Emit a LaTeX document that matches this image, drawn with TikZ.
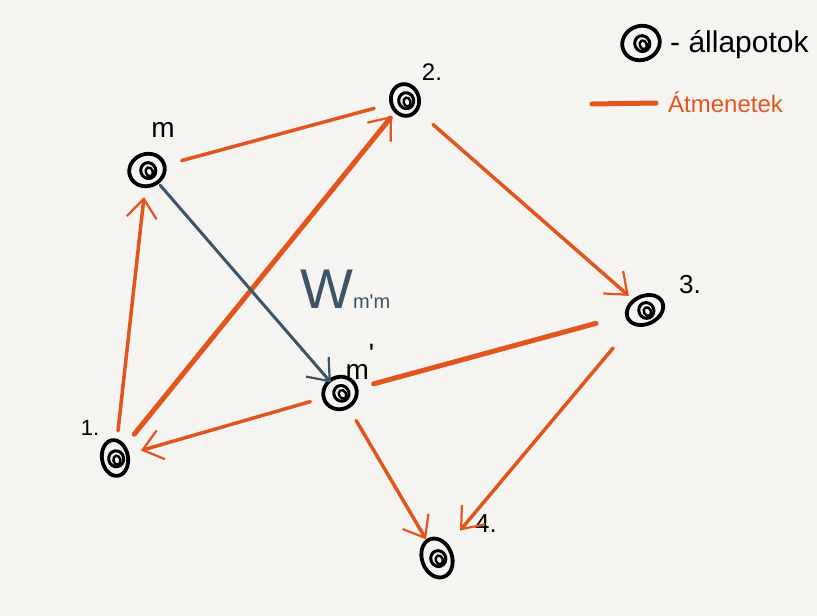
\documentclass[tikz,border=0pt]{standalone}
\usepackage{fontspec}
\setmainfont{Liberation Sans}
\usetikzlibrary{shapes.geometric,arrows.meta}

\definecolor{atmenetszin}{RGB}{226,86,30}
\definecolor{wszin}{RGB}{62,84,104}
\definecolor{papir}{RGB}{245,244,241}

\tikzset{
  allapot/.style={ellipse, draw=black, line width=3.8pt, inner sep=0pt,
    minimum width=30pt, minimum height=32pt,
    path picture={
      \draw[line width=3pt]
        ([shift={(1pt,-1pt)}]path picture bounding box.center) ellipse (7.5pt and 8pt);
      \draw[line width=2.4pt]
        ([shift={(1.5pt,-2.5pt)}]path picture bounding box.center) ellipse (3.5pt and 4.5pt);
    }},
  atmenet/.style={draw=atmenetszin, line width=3.5pt, line cap=round},
  nyil/.style={-{Straight Barb[length=19pt,width=30pt,line width=2.2pt]}},
  cimke/.style={font=\fontsize{28}{28}\selectfont, inner sep=0pt},
}

\begin{document}
\begin{tikzpicture}[x=1pt, y=-1pt]
  \fill[papir] (0,0) rectangle (817,616);
  \useasboundingbox (0,0) rectangle (817,616);

  % allapotok
  \node[allapot, minimum width=36pt, minimum height=32pt, rotate=20] (m) at (147,170) {};
  \node[allapot, minimum width=28pt, minimum height=32pt, rotate=15] (k2) at (405,100) {};
  \node[allapot, minimum width=38pt, minimum height=28pt, rotate=25] (k3) at (645,310) {};
  \node[allapot, minimum width=34pt, minimum height=32pt, rotate=30] (mv) at (340,393) {};
  \node[allapot, minimum width=26pt, minimum height=36pt, rotate=10] (k1) at (115,458) {};
  \node[allapot, minimum width=30pt, minimum height=40pt, rotate=20] (k4) at (437,558) {};

  \node[cimke] (m label) at (163,130) {m};
  \node[cimke, font=\fontsize{24}{24}\selectfont] (k2 label) at (432,72) {2.};
  \node[cimke, font=\fontsize{26}{26}\selectfont] (k3 label) at (690,285) {3.};
  \node[cimke] (mv label) at (360,362) {m\raisebox{0.55em}{\textquotesingle}};
  \node[cimke, font=\fontsize{22}{22}\selectfont] (k1 label) at (90,428) {1.};
  \node[cimke, font=\fontsize{26}{26}\selectfont] (k4 label) at (486,524) {4.};

  % atmenetek
  \draw[atmenet, shorten <=16pt, shorten >=16pt] (m) -- (k2)
  ;
  \draw[atmenet, nyil, line width=5pt, shorten <=14pt, shorten >=4pt] (k1) -- (k2)
  ;
  \draw[atmenet, nyil, shorten <=8pt, shorten >=9pt] (k1) -- (m)
  ;
  \draw[atmenet, nyil, shorten <=20pt, shorten >=5pt] (k2) -- (k3)
  ;
  \draw[atmenet, nyil, shorten <=12pt, shorten >=12pt] (mv) -- (k1)
  ;
  \draw[atmenet, line width=5pt, shorten <=30pt, shorten >=16pt] (k3) -- (mv)
  ;
  \draw[atmenet, nyil, shorten <=14pt, shorten >=0pt] (mv) -- (k4)
  ;
  \draw[atmenet, nyil, shorten <=30pt, shorten >=18pt] (k3) -- (k4)
  ;
  \draw[draw=wszin, line width=3pt, line cap=round, nyil, shorten <=2pt, shorten >=-4pt] (m) -- (mv)
  ;
  \node[text=wszin, inner sep=0pt, anchor=base west] (wmm) at (300,308)
    {{\fontsize{56}{56}\selectfont W}{\fontsize{20}{20}\selectfont m\textquotesingle m}};

  % jelmagyarazat
  \node[allapot, minimum width=38pt, minimum height=34pt, rotate=20] (jel allapot) at (641,43) {};
  \node[cimke, anchor=west, font=\fontsize{30}{30}\selectfont] (jel allapot szoveg) at (670,45) {- állapotok};
  \coordinate (jel a) at (592,104);
  \coordinate (jel b) at (656,103);
  \draw[atmenet, line width=5pt] (jel a) -- (jel b)
  ;
  \node[cimke, anchor=west, text=atmenetszin, font=\fontsize{24}{24}\selectfont] (jel atmenet szoveg) at (668,102) {Átmenetek};
\end{tikzpicture}
\end{document}
